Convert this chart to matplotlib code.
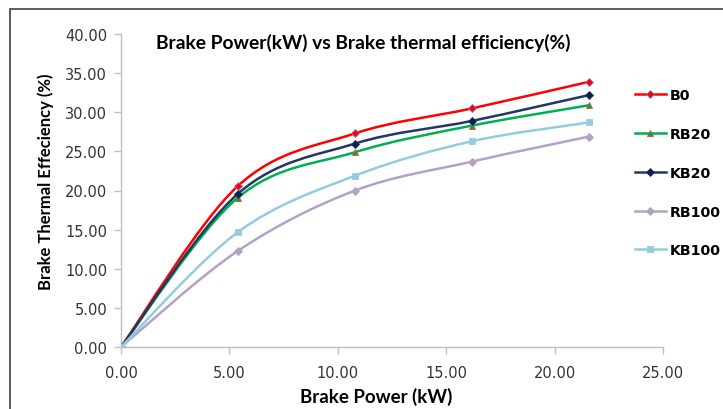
import numpy as np
import matplotlib
matplotlib.use("Agg")
import matplotlib.pyplot as plt
from matplotlib.path import Path
from matplotlib.patches import PathPatch, Rectangle
from matplotlib.lines import Line2D

# dane
brake_power = [0.0, 5.4, 10.8, 16.2, 21.6]
b0 = [0.0, 20.6, 27.3, 30.5, 33.9]
rb20 = [0.0, 19.1, 24.9, 28.3, 30.9]
kb20 = [0.0, 19.6, 26.0, 28.9, 32.2]
rb100 = [0.0, 12.3, 20.0, 23.7, 26.9]
kb100 = [0.0, 14.7, 21.9, 26.3, 28.7]

series = [
    ("B0", b0, "#ff0000", "D", "#ff0000", "#7f7fbf"),
    ("RB20", rb20, "#00b050", "^", "#20a040", "#c0504d"),
    ("KB20", kb20, "#1f3864", "D", "#0a2050", "#203060"),
    ("RB100", rb100, "#b3a2c7", "D", "#b3a2c7", "#b3a2c7"),
    ("KB100", kb100, "#93cddd", "s", "#93cddd", "#93cddd"),
]


def smooth_path(x, y):
    # wygladzenie jak w Excelu - krzywe Beziera
    pts = np.column_stack([x, y])
    ext = np.vstack([pts[0], pts, pts[-1]])
    verts = [pts[0]]
    codes = [Path.MOVETO]
    for i in range(len(pts) - 1):
        p0, p1, p2, p3 = ext[i], ext[i + 1], ext[i + 2], ext[i + 3]
        verts += [p1 + (p2 - p0) / 6, p2 - (p3 - p1) / 6, p2]
        codes += [Path.CURVE4] * 3
    return Path(verts, codes)


fig = plt.figure(figsize=(7.23, 4.10), dpi=100)
ax = fig.add_axes([121 / 723, 62 / 410, 542 / 723, 313 / 410])

handles = []
for name, vals, color, marker, mface, medge in series:
    ax.add_patch(PathPatch(smooth_path(brake_power, vals), facecolor="none",
                           edgecolor=color, lw=1.8, zorder=2))
    ax.plot(brake_power, vals, linestyle="none", marker=marker, markersize=4.5,
            markerfacecolor=mface, markeredgecolor=medge, markeredgewidth=0.6, zorder=3)
    handles.append(Line2D([], [], color=color, lw=1.8, marker=marker, markersize=4.5,
                          markerfacecolor=mface, markeredgecolor=medge,
                          markeredgewidth=0.6, label=name))

ax.set_xlim(0, 25)
ax.set_ylim(0, 40)
ax.set_xticks(np.arange(0, 26, 5))
ax.set_yticks(np.arange(0, 41, 5))
ax.xaxis.set_major_formatter(matplotlib.ticker.FormatStrFormatter("%.2f"))
ax.yaxis.set_major_formatter(matplotlib.ticker.FormatStrFormatter("%.2f"))
ax.tick_params(colors="#bfbfbf", labelcolor="#333333", labelsize=10.5, length=5, width=1)
ax.tick_params(axis="x", pad=8)
ax.tick_params(axis="y", pad=5)
for side in ["top", "right"]:
    ax.spines[side].set_visible(False)
for side in ["left", "bottom"]:
    ax.spines[side].set_color("#bfbfbf")
    ax.spines[side].set_linewidth(1)

# tytul i opisy osi
fig.text(156 / 723, 1 - 43 / 410, "Brake Power(kW) vs Brake thermal efficiency(%)",
         family="Lato", fontweight="bold", fontsize=13.9, va="center", ha="left")
fig.text(46 / 723, 1 - 182 / 410, "Brake Thermal Effeciency (%)", family="Lato",
         fontweight="bold", fontsize=12, rotation=90, va="center", ha="center")
fig.text(376 / 723, 1 - 397 / 410, "Brake Power (kW)", family="Lato",
         fontweight="bold", fontsize=13.5, va="center", ha="center")

leg = fig.legend(handles=handles, loc="upper left", bbox_to_anchor=(622 / 723, 1 - 76 / 410),
                 frameon=False, handlelength=2.15, handletextpad=0.3, labelspacing=1.74,
                 prop={"family": "DejaVu Sans", "weight": "bold", "size": 10.3})

# ramka obrazka
fig.add_artist(Rectangle((10 / 723, -0.05), 1.0, 1 - 10 / 410 + 0.05,
                         transform=fig.transFigure, fill=False, edgecolor="#404040",
                         lw=1.2, clip_on=False))

fig.savefig("out.png", dpi=100)
